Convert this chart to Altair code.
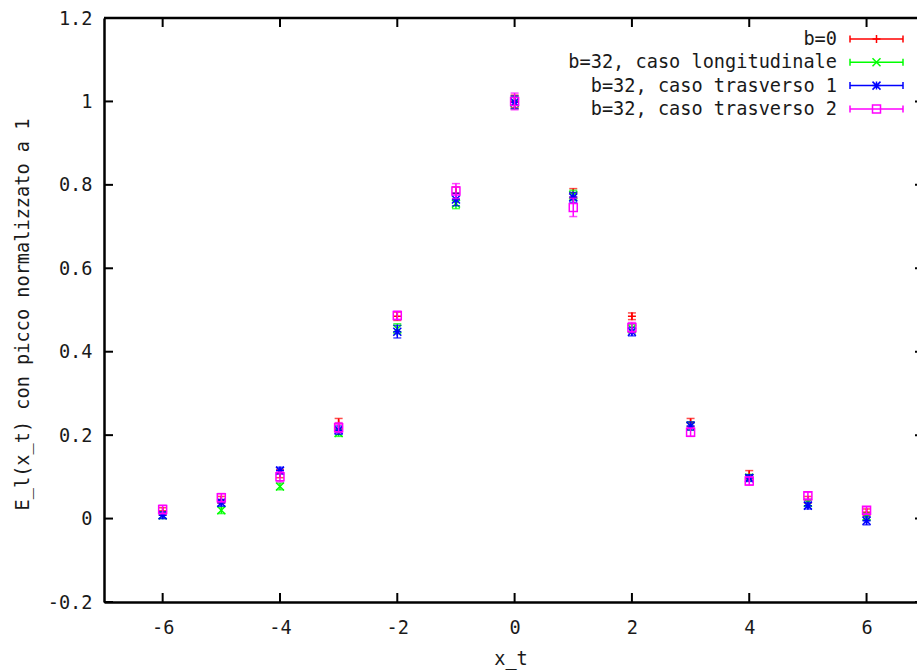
import altair as alt
import pandas as pd

# x_t positions
xs = [-6, -5, -4, -3, -2, -1, 0, 1, 2, 3, 4, 5, 6]

# E_l(x_t) normalised to the peak, one list per case, with their errors
b0 = [0.018, 0.045, 0.108, 0.228, 0.485, 0.780, 1.000, 0.781, 0.485, 0.230, 0.105, 0.045, 0.015]
b0_err = [0.008, 0.008, 0.010, 0.012, 0.010, 0.015, 0.015, 0.010, 0.008, 0.010, 0.010, 0.008, 0.008]

long32 = [0.008, 0.020, 0.077, 0.205, 0.455, 0.755, 0.997, 0.775, 0.455, 0.222, 0.098, 0.038, 0.005]
long32_err = [0.008, 0.008, 0.008, 0.008, 0.012, 0.012, 0.015, 0.012, 0.010, 0.010, 0.008, 0.008, 0.008]

tr1 = [0.008, 0.038, 0.115, 0.212, 0.448, 0.765, 0.998, 0.770, 0.448, 0.222, 0.097, 0.031, -0.005]
tr1_err = [0.008, 0.008, 0.008, 0.010, 0.015, 0.015, 0.015, 0.012, 0.010, 0.010, 0.008, 0.008, 0.010]

tr2 = [0.022, 0.050, 0.100, 0.218, 0.487, 0.785, 1.000, 0.746, 0.458, 0.207, 0.090, 0.055, 0.020]
tr2_err = [0.010, 0.010, 0.012, 0.012, 0.010, 0.018, 0.020, 0.022, 0.012, 0.010, 0.010, 0.008, 0.008]

names = ["b=0", "b=32, caso longitudinale", "b=32, caso trasverso 1", "b=32, caso trasverso 2"]
colors = ["#ff0000", "#00ff00", "#0000ff", "#ff00ff"]
series_vals = [b0, long32, tr1, tr2]
series_errs = [b0_err, long32_err, tr1_err, tr2_err]

# gnuplot-like point types: plus, cross, star, open square
shapes = [
    "M-1,0L1,0M0,-1L0,1",
    "M-1,-1L1,1M-1,1L1,-1",
    "M-1,0L1,0M0,-1L0,1M-1,-1L1,1M-1,1L1,-1",
    "M-1,-1L1,-1L1,1L-1,1Z",
]

x_ticks = [-6, -4, -2, 0, 2, 4, 6]
y_ticks = [-0.2, 0, 0.2, 0.4, 0.6, 0.8, 1.0, 1.2]

FONT = "DejaVu Sans Mono"
FS = 18.6
TXT = "#1a1a1a"
W, H = 813, 584
SW = 1.5  # stroke width of error bars and point symbols

xscale = alt.Scale(domain=[-7, 6.86], nice=False, zero=False)
yscale = alt.Scale(domain=[-0.2, 1.2], nice=False, zero=False)

x_axis = alt.Axis(
    values=x_ticks, title="x_t", grid=False, ticks=False, tickSize=0,
    domainColor="black", domainWidth=2.5, labelFont=FONT, labelFontSize=FS,
    labelColor=TXT, labelPadding=31, labelBaseline="alphabetic",
    labelExpr="toString(datum.value)", titleFont=FONT, titleFontSize=FS,
    titleFontWeight="normal", titleColor=TXT, titleY=62,
    titleBaseline="alphabetic",
)
y_axis = alt.Axis(
    values=y_ticks, title="E_l(x_t) con picco normalizzato a 1", grid=False,
    ticks=False, tickSize=0, domainColor="black", domainWidth=2.5,
    labelFont=FONT, labelFontSize=FS, labelColor=TXT, labelPadding=12,
    labelExpr="toString(round(datum.value*10)/10)", titleFont=FONT,
    titleFontSize=FS, titleFontWeight="normal", titleColor=TXT,
    titleX=-82, titleY=296, titleBaseline="middle", titleAlign="center",
    titleAngle=270,
)

layers = []

# Invisible base layer that carries the axes
axis_df = pd.DataFrame({"x": [-7], "y": [-0.2]})
layers.append(
    alt.Chart(axis_df).mark_point(opacity=0).encode(
        x=alt.X("x:Q", scale=xscale, axis=x_axis),
        y=alt.Y("y:Q", scale=yscale, axis=y_axis),
    )
)

# Series: error bar, caps and point, drawn one case after another
for name, col, vals, errs, shp in zip(names, colors, series_vals, series_errs, shapes):
    df = pd.DataFrame({"x": xs, "y": vals, "err": errs})
    df["lo"] = df["y"] - df["err"]
    df["hi"] = df["y"] + df["err"]
    base = alt.Chart(df)
    layers.append(base.mark_rule(color=col, strokeWidth=SW).encode(
        x=alt.X("x:Q", scale=xscale), y=alt.Y("lo:Q", scale=yscale), y2="hi:Q"))
    layers.append(base.mark_tick(color=col, orient="horizontal", size=8, thickness=SW).encode(
        x=alt.X("x:Q", scale=xscale), y=alt.Y("lo:Q", scale=yscale)))
    layers.append(base.mark_tick(color=col, orient="horizontal", size=8, thickness=SW).encode(
        x=alt.X("x:Q", scale=xscale), y=alt.Y("hi:Q", scale=yscale)))
    layers.append(base.mark_point(color=col, filled=False, strokeWidth=SW, size=64, opacity=1).encode(
        x=alt.X("x:Q", scale=xscale), y=alt.Y("y:Q", scale=yscale), shape=alt.value(shp)))

# Frame: top border and inward tick marks on all sides
layers.append(alt.Chart(axis_df).mark_rule(color="black", strokeWidth=2.5).encode(
    x=alt.value(0), x2=alt.value(W), y=alt.value(0)))
xt_df = pd.DataFrame({"xt": x_ticks})
yt_df = pd.DataFrame({"yt": y_ticks})
layers.append(alt.Chart(xt_df).mark_rule(color="black", strokeWidth=2).encode(
    x=alt.X("xt:Q", scale=xscale), y=alt.value(H), y2=alt.value(H - 9)))
layers.append(alt.Chart(xt_df).mark_rule(color="black", strokeWidth=2).encode(
    x=alt.X("xt:Q", scale=xscale), y=alt.value(0), y2=alt.value(9)))
layers.append(alt.Chart(yt_df).mark_rule(color="black", strokeWidth=2).encode(
    y=alt.Y("yt:Q", scale=yscale), x=alt.value(0), x2=alt.value(9)))
layers.append(alt.Chart(yt_df).mark_rule(color="black", strokeWidth=2).encode(
    y=alt.Y("yt:Q", scale=yscale), x=alt.value(W - 2), x2=alt.value(W)))

# Key in the upper right corner
key_text_x, key_x0, key_x1 = 733, 746, 799
for i, (name, col, shp) in enumerate(zip(names, colors, shapes)):
    yrow = 21 + 23.3 * i
    kdf = pd.DataFrame({"name": [name]})
    kb = alt.Chart(kdf)
    layers.append(kb.mark_text(align="right", baseline="middle", font=FONT, fontSize=FS, color=TXT).encode(
        text="name:N", x=alt.value(key_text_x), y=alt.value(yrow)))
    layers.append(kb.mark_rule(color=col, strokeWidth=SW).encode(
        x=alt.value(key_x0), x2=alt.value(key_x1), y=alt.value(yrow)))
    for kx in (key_x0, key_x1):
        layers.append(kb.mark_rule(color=col, strokeWidth=SW).encode(
            x=alt.value(kx), y=alt.value(yrow - 3.5), y2=alt.value(yrow + 3.5)))
    layers.append(kb.mark_point(color=col, filled=False, strokeWidth=SW, size=64, opacity=1).encode(
        x=alt.value((key_x0 + key_x1) / 2), y=alt.value(yrow), shape=alt.value(shp)))

chart = alt.layer(*layers).properties(
    width=W, height=H,
    padding={"left": 104, "top": 18, "right": 0, "bottom": 69},
    autosize="none",
    background="white",
).configure_view(stroke=None)

chart.save("out.html", embed_options={"renderer": "svg", "actions": False})
